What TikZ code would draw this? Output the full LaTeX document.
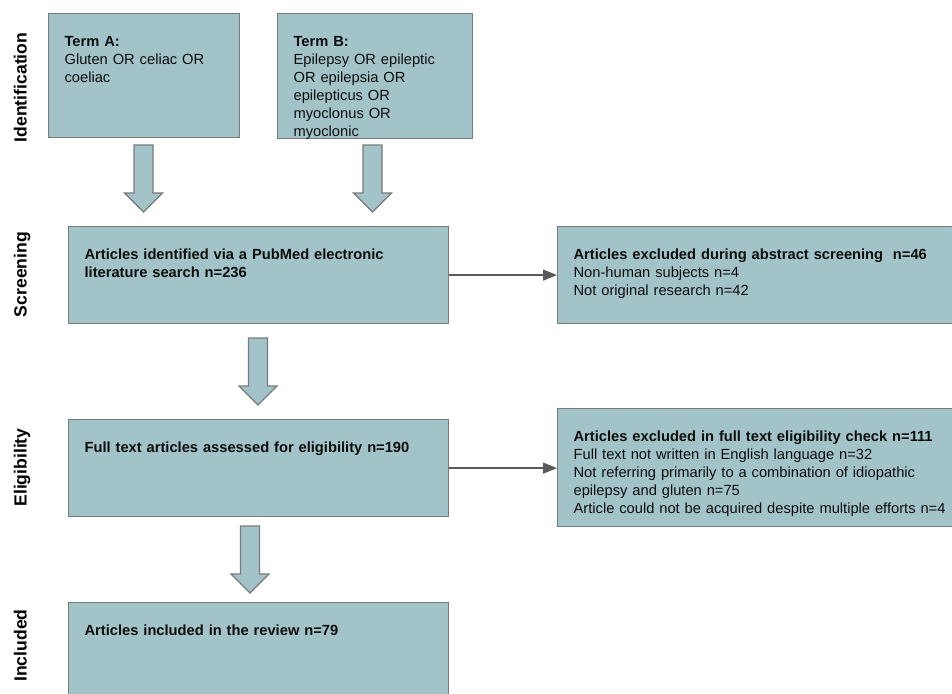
\documentclass[tikz,border=0pt]{standalone}
\usepackage{fontspec}
\setmainfont{Liberation Sans}
\usetikzlibrary{arrows.meta}
\definecolor{boxfill}{HTML}{A2C4C9}
\definecolor{boxline}{HTML}{7A7A7A}
\definecolor{linkgray}{HTML}{5A5A5A}

% thick block arrow pointing down: centre x, top y
\newcommand{\blockdown}[2]{%
  \draw[blockarrow] (#1-9.5,#2) -- ++(0,48) -- ++(-9.5,0) -- ++(19,19)
    -- ++(19,-19) -- ++(-9.5,0) -- ++(0,-48) -- cycle;}

\begin{document}
\begin{tikzpicture}[x=1pt,y=-1pt,
    flowbox/.style 2 args={draw=boxline, fill=boxfill, line width=1.2pt,
      anchor=north west, inner xsep=16pt, inner ysep=0pt,
      text width=#1, text height=32.5pt, text depth=#2, align=left,
      font=\fontsize{14.7}{18}\selectfont, text=black!95},
    sidelabel/.style={rotate=90, anchor=base, inner sep=0pt,
      font=\fontsize{17.6}{20}\selectfont\bfseries},
    blockarrow/.style={draw=boxline, fill=boxfill, line width=1.2pt, line join=miter},
    link/.style={draw=linkgray, line width=1.3pt, -{Triangle[length=14pt,width=11pt]}}]
    \useasboundingbox (0,0) rectangle (952,693);
    \clip (0,0) rectangle (952,693);

    % stage labels on the left
    \node[sidelabel] (idlab) at (26.5,87.5) {Identification};
    \node[sidelabel] (scrlab) at (26.5,274.5) {Screening};
    \node[sidelabel] (eliglab) at (26.5,467.5) {Eligibility};
    \node[sidelabel] (inclab) at (26.5,645.5) {Included};

    % search terms
    \node[flowbox={159pt}{91.5pt}] (termA) at (48,13)
      {\textbf{Term A:}\\Gluten OR celiac OR\\coeliac};
    \node[flowbox={163pt}{92.5pt}] (termB) at (277,13)
      {\textbf{Term B:}\\Epilepsy OR epileptic\\OR epilepsia OR\\epilepticus OR\\myoclonus OR\\myoclonic};

    % arrows into screening
    \blockdown{143.5}{145}
    \blockdown{372.5}{145}

    % screening
    \node[flowbox={348pt}{64.5pt}] (search) at (68,226)
      {\textbf{Articles identified via a PubMed electronic}\\\textbf{literature search n=236}};
    \node[flowbox={390pt}{64.5pt}] (excl1) at (557,226)
      {\textbf{Articles excluded during abstract screening\ \ n=46}\\Non-human subjects n=4\\Not original research n=42};
    \draw[link] (search.east) -- (search.east -| excl1.west);

    \blockdown{258}{338}

    % eligibility
    \node[flowbox={348pt}{64.5pt}] (fulltext) at (68,419)
      {\textbf{Full text articles assessed for eligibility n=190}};
    \node[flowbox={390pt}{85.5pt}] (excl2) at (557,408)
      {\textbf{Articles excluded in full text eligibility check n=111}\\Full text not written in English language n=32\\Not referring primarily to a combination of idiopathic\\epilepsy and gluten n=75\\Article could not be acquired despite multiple efforts n=4};
    \draw[link] (fulltext.east) -- (fulltext.east -| excl2.west);

    \blockdown{250}{526}

    % included
    \node[flowbox={348pt}{72pt}] (review) at (68,602)
      {\textbf{Articles included in the review n=79}};
\end{tikzpicture}
\end{document}
